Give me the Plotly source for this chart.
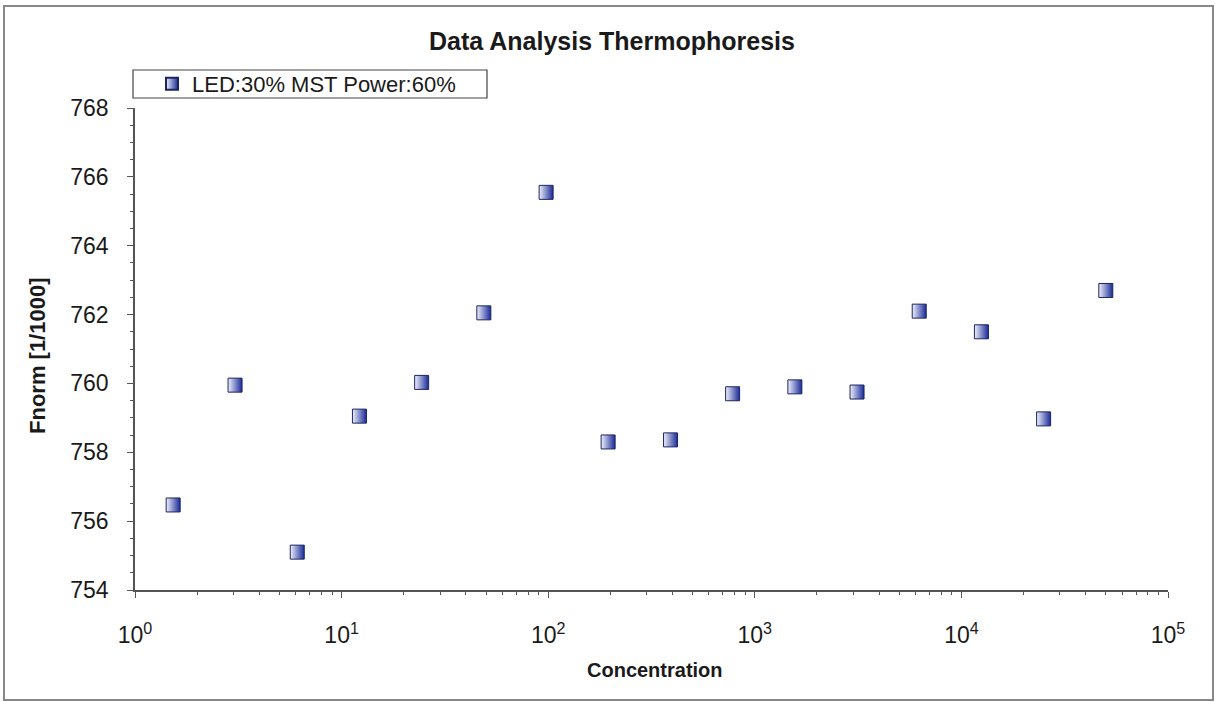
import plotly.graph_objects as go

concentration = [1.53, 3.05, 6.1, 12.2, 24.4, 48.8, 97.7, 195, 391, 781, 1563, 3125, 6250, 12500, 25000, 50000]
fnorm = [756.47, 759.95, 755.10, 759.05, 760.03, 762.05, 765.55, 758.30, 758.36, 759.70, 759.90, 759.75, 762.10, 761.50, 758.97, 762.70]
series_name = "LED:30% MST Power:60%"
x_tickvals = [1, 10, 100, 1000, 10000, 100000]
x_ticktext = ["10<sup>0</sup>", "10<sup>1</sup>", "10<sup>2</sup>", "10<sup>3</sup>", "10<sup>4</sup>", "10<sup>5</sup>"]
y_tickvals = [754, 756, 758, 760, 762, 764, 766, 768]

L, R, T, B = 135, 47, 108, 112
W, H = 1215, 702
pw, ph = W - L - R, H - T - B

def px_x(p):
    return (p - L) / pw

def px_y(p):
    return 1 - (p - T) / ph

axis_col = "#555555"
txt_col = "#1a1a1a"
font_main = "Liberation Sans, Arial, sans-serif"

fig = go.Figure()
fig.add_trace(go.Scatter(
    x=concentration, y=fnorm, mode="markers", name=series_name,
    marker=dict(symbol="square", size=14, color="#eef1fa",
                gradient=dict(type="horizontal", color="#1a2a98"),
                line=dict(color="#1c2460", width=1)),
))

common_x = dict(type="log", range=[0, 5], showgrid=False, zeroline=False)
common_y = dict(range=[754, 768], showgrid=False, zeroline=False)

fig.update_layout(
    width=W, height=H,
    margin=dict(l=L, r=R, t=T, b=B),
    paper_bgcolor="white", plot_bgcolor="white",
    font=dict(family=font_main, color=txt_col),
    title=dict(text="<b>Data Analysis Thermophoresis</b>", x=612 / W, xanchor="center",
               y=1 - 41 / H, yanchor="middle", font=dict(size=25, color=txt_col)),
    xaxis=dict(**common_x, showline=True, linecolor=axis_col, linewidth=1.5,
               ticks="outside", ticklen=6, tickwidth=1.2, tickcolor=axis_col,
               tickvals=x_tickvals, ticktext=x_ticktext, ticklabelstandoff=18,
               tickfont=dict(size=23, color=txt_col),
               minor=dict(ticks="outside", ticklen=3, tickcolor=axis_col, dtick="D1")),
    xaxis2=dict(**common_x, overlaying="x", side="bottom", showline=True, linecolor=axis_col,
                linewidth=1.5, mirror="ticks", ticks="inside", ticklen=4, tickwidth=1.2,
                tickcolor=axis_col, tickvals=x_tickvals, showticklabels=False,
                minor=dict(ticks="inside", ticklen=3, tickcolor=axis_col, dtick="D1")),
    yaxis=dict(**common_y, showline=True, linecolor=axis_col, linewidth=1.5,
               ticks="outside", ticklen=6, tickwidth=1.2, tickcolor=axis_col,
               tickvals=y_tickvals, ticklabelstandoff=14,
               tickfont=dict(size=23, color=txt_col),
               minor=dict(ticks="outside", ticklen=3, tickcolor=axis_col, dtick=0.5)),
    yaxis2=dict(**common_y, overlaying="y", side="left", showline=True, linecolor=axis_col,
                linewidth=1.5, mirror="ticks", ticks="inside", ticklen=4, tickwidth=1.2,
                tickcolor=axis_col, tickvals=y_tickvals, showticklabels=False,
                minor=dict(ticks="inside", ticklen=3, tickcolor=axis_col, dtick=0.5)),
    showlegend=True,
    legend=dict(x=px_x(152), y=px_y(84), xanchor="left", yanchor="middle",
                borderwidth=0, bgcolor="rgba(0,0,0,0)",
                font=dict(size=22, color=txt_col), itemsizing="constant"),
)

fig.add_annotation(text="<b>Concentration</b>", xref="paper", yref="paper",
                   x=px_x(655), y=px_y(670), xanchor="center", yanchor="middle",
                   showarrow=False, font=dict(size=20, color=txt_col))
fig.add_annotation(text="<b>Fnorm [1/1000]</b>", xref="paper", yref="paper",
                   x=px_x(37), y=px_y(356), xanchor="center", yanchor="middle",
                   textangle=-90, showarrow=False, font=dict(size=22, color=txt_col))

# legend frame
fig.add_shape(type="rect", xref="paper", yref="paper",
              x0=px_x(133), x1=px_x(487), y0=px_y(98), y1=px_y(70),
              line=dict(color="#444444", width=1.2))
# outer frame
fig.add_shape(type="rect", xref="paper", yref="paper",
              x0=px_x(4), x1=px_x(1213), y0=px_y(700), y1=px_y(6),
              line=dict(color="#888888", width=2), layer="below")

fig.write_html("out.html", config={"displayModeBar": False},
               post_script="document.body.style.margin='0';")
